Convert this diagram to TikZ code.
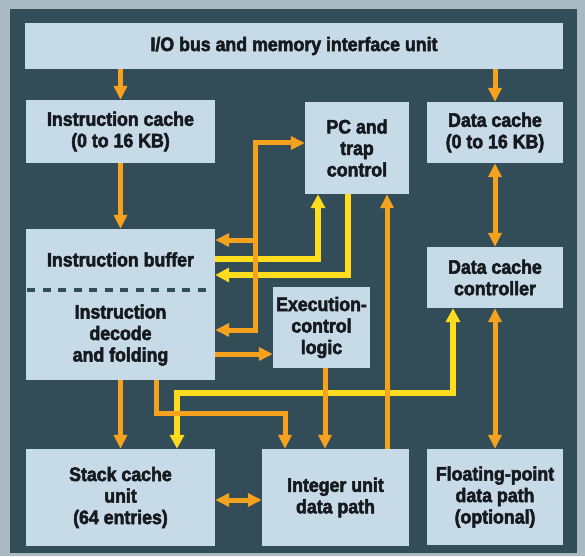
\documentclass[tikz,border=0pt]{standalone}
\usepackage{fontspec}
\setmainfont{Liberation Sans}[FakeStretch=0.91, BoldFeatures={FakeBold=2.6}]
\usetikzlibrary{arrows.meta}
\definecolor{panel}{HTML}{324D57}
\definecolor{frame}{HTML}{A9BAC2}
\definecolor{boxfill}{HTML}{C6DBE7}
\definecolor{org}{HTML}{F7A21E}
\definecolor{ylw}{HTML}{FFDC1E}
\definecolor{txt}{HTML}{161A1E}
\begin{document}
\begin{tikzpicture}[x=1pt,y=-1pt,
  blk/.style={fill=boxfill, inner sep=0pt, align=center, text=txt,
    font=\fontsize{19.5}{21.5}\selectfont\bfseries},
  oline/.style={draw=org, line width=5pt, >={Triangle[width=13pt,length=14pt]}},
  yline/.style={draw=ylw, line width=5.5pt, >={Triangle[width=14pt,length=14pt]}},
]
\useasboundingbox (0,0) rectangle (585,556);
\fill[frame] (0,0) rectangle (585,556);
\fill[panel] (10,9) rectangle (577,553);

% blocks
\node[blk, minimum width=538pt, minimum height=46pt] (io) at (294,46) {I/O bus and memory interface unit};
\node[blk, minimum width=189pt, minimum height=63pt] (icache) at (120.5,131.5) {Instruction cache\\(0 to 16 KB)};
\node[blk, minimum width=104pt, minimum height=92pt] (pc) at (357,148) {PC and\\trap\\control};
\node[blk, minimum width=136pt, minimum height=61pt] (dcache) at (495,132.5) {Data cache\\(0 to 16 KB)};
\node[blk, minimum width=189pt, minimum height=61pt] (ibuf) at (120.5,259.5) {Instruction buffer};
\node[blk, minimum width=189pt, minimum height=90pt] (idec) at (120.5,335) {Instruction\\decode\\and folding};
\node[blk, minimum width=136pt, minimum height=61pt] (dcc) at (495,277.5) {Data cache\\controller};
\node[blk, minimum width=97pt, minimum height=81pt] (exec) at (321.5,327.5) {Execution-\\control\\logic};
\node[blk, minimum width=189pt, minimum height=97pt] (stack) at (120.5,497.5) {Stack cache\\unit\\(64 entries)};
\node[blk, minimum width=147pt, minimum height=97pt] (int) at (335.5,497.5) {Integer unit\\data path};
\node[blk, minimum width=136pt, minimum height=96pt] (fp) at (495,497) {Floating-point\\data path\\(optional)};

% dashed divider between buffer and decode
\draw[panel, line width=4pt, dash pattern=on 8pt off 7.5pt] (27,290) -- (212,290);

% yellow connectors
\coordinate (ya) at (318,259);
\draw[yline,->] (ya -| ibuf.east) -- (ya) -- (ya |- pc.south);
\coordinate (yb) at (348,275);
\draw[yline,->] (yb |- pc.south) -- (yb) -- (yb -| ibuf.east);
\coordinate (yc) at (453,393);
\coordinate (yd) at (177,393);
\draw[yline,<->] (yc |- dcc.south) -- (yc) -- (yd) -- (yd |- stack.north);

% orange connectors
\draw[oline,->] (io.south -| icache.north) -- (icache.north);
\draw[oline,->] (io.south -| dcache.north) -- (dcache.north);
\draw[oline,->] (icache.south) -- (ibuf.north);
\draw[oline,<->] (dcache.south) -- (dcc.north);
\draw[oline,<->] (dcc.south) -- (fp.north);
\coordinate (ba) at (255,143);
\coordinate (bb) at (255,240);
\coordinate (bc) at (255,330);
\draw[oline,<->] (bc -| idec.east) -- (bc) -- (ba) -- (ba -| pc.west);
\draw[oline,->] (bb) -- (bb -| ibuf.east);
\coordinate (xi) at (387,0);
\draw[oline,->] (int.north -| xi) -- (pc.south -| xi);
\coordinate (e1) at (0,354);
\draw[oline,->] (e1 -| idec.east) -- (e1 -| exec.west);
\coordinate (e2) at (325,0);
\draw[oline,->] (exec.south -| e2) -- (int.north -| e2);
\draw[oline,->] (idec.south) -- (stack.north);
\coordinate (da) at (156,413);
\coordinate (db) at (285,413);
\draw[oline,->] (idec.south -| da) -- (da) -- (db) -- (db |- int.north);
\coordinate (s1) at (0,500);
\draw[oline,<->] (s1 -| stack.east) -- (s1 -| int.west);
\end{tikzpicture}
\end{document}
